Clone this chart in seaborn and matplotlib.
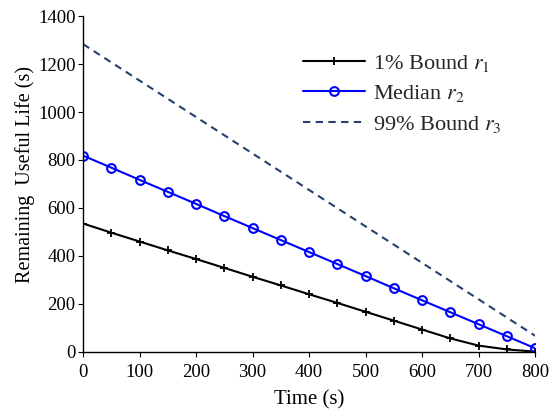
import matplotlib
matplotlib.use("Agg")
import matplotlib.pyplot as plt
import seaborn as sns
import pandas as pd

time_s = [0, 50, 100, 150, 200, 250, 300, 350, 400, 450, 500, 550, 600, 650, 700, 750, 800]
bound_1 = [535, 497, 460, 423, 387, 350, 313, 277, 240, 204, 167, 130, 93, 56, 26, 10, 1]
median = [818, 768, 717, 667, 617, 566, 516, 466, 416, 366, 316, 265, 215, 165, 115, 65, 15]
bound_99 = [1283, 1207, 1131, 1055, 979, 903, 827, 751, 675, 599, 523, 447, 371, 295, 219, 143, 67]

sns.set_theme(style="ticks")
plt.rcParams["font.family"] = ["Liberation Serif", "DejaVu Serif"]
plt.rcParams["mathtext.fontset"] = "stix"

df = pd.DataFrame({"t": time_s, "b1": bound_1, "med": median, "b99": bound_99})

fig = plt.figure(figsize=(5.5, 4.12), dpi=100)
ax = fig.add_axes([0.151, 0.146, 0.822, 0.815])

sns.lineplot(data=df, x="t", y="b1", ax=ax, color="black", marker="+", markersize=6,
             markeredgecolor="black", markeredgewidth=1.3, linewidth=1.5,
             label=r"1% Bound $r_1$")
sns.lineplot(data=df, x="t", y="med", ax=ax, color="#0000ff", marker="o", markersize=6.3,
             markerfacecolor="none", markeredgecolor="#0000ff", markeredgewidth=1.5,
             linewidth=1.5, label=r"Median $r_2$")
sns.lineplot(data=df, x="t", y="b99", ax=ax, color="#27406e", linewidth=1.5,
             label=r"99% Bound $r_3$")
ax.lines[-1].set_linestyle((0, (3.5, 2.6)))

ax.set_xlim(0, 800)
ax.set_ylim(0, 1400)
ax.set_xticks(range(0, 801, 100))
ax.set_yticks(range(0, 1401, 200))
ax.tick_params(axis="both", labelsize=13.5, direction="out", length=3.5, width=0.8,
               colors="black")
ax.tick_params(axis="x", pad=5.5)
ax.tick_params(axis="y", pad=2)
ax.set_xlabel("Time (s)", fontsize=15, color="black")
ax.set_ylabel("Remaining  Useful Life (s)", fontsize=14.5, color="black")
ax.xaxis.set_label_coords(0.5, -0.113)
ax.yaxis.set_label_coords(-0.106, 0.527)
sns.despine(ax=ax)
for s in ["left", "bottom"]:
    ax.spines[s].set_color("black")
    ax.spines[s].set_linewidth(1.0)

leg = ax.legend(loc="upper right", bbox_to_anchor=(0.956, 0.93), frameon=False, fontsize=16,
                handlelength=2.8, labelspacing=0.42, handletextpad=0.35,
                borderaxespad=0.2)

fig.savefig("out.png", dpi=100)
